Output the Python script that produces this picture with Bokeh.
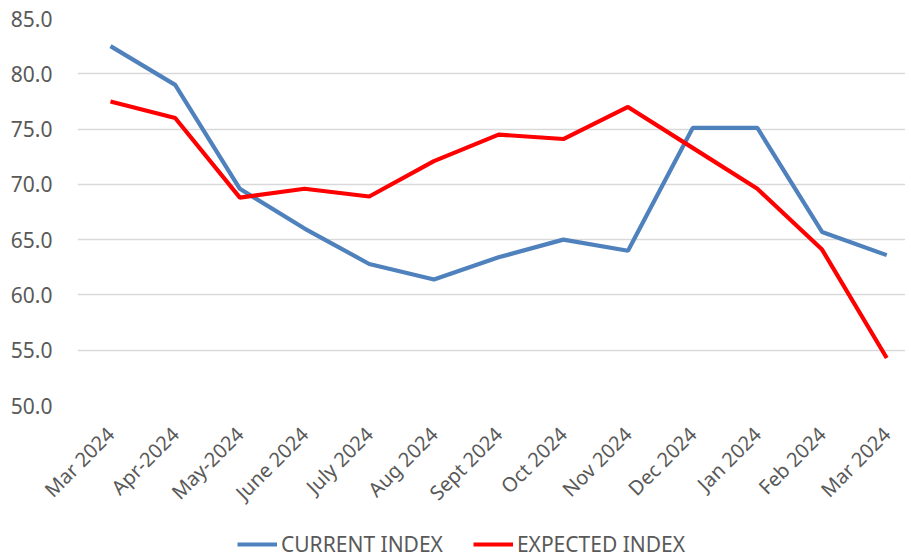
import math
from bokeh.plotting import figure
from bokeh.layouts import column
from bokeh.models import FixedTicker, Legend, LegendItem, Range1d, ColumnDataSource
from bokeh.embed import file_html
from bokeh.resources import INLINE

months = ["Mar 2024", "Apr-2024", "May-2024", "June 2024", "July 2024", "Aug 2024",
          "Sept 2024", "Oct 2024", "Nov 2024", "Dec 2024", "Jan 2024", "Feb 2024", "Mar 2024"]
current_index = [82.5, 79.0, 69.6, 66.0, 62.8, 61.4, 63.4, 65.0, 64.0, 75.1, 75.1, 65.7, 63.6]
expected_index = [77.5, 76.0, 68.8, 69.6, 68.9, 72.1, 74.5, 74.1, 77.0, 73.3, 69.6, 64.1, 54.3]
series_names = ["CURRENT INDEX", "EXPECTED INDEX"]
y_ticks = [50, 55, 60, 65, 70, 75, 80, 85]

xs = list(range(len(months)))
src = ColumnDataSource(dict(x=xs, cur=current_index, exp=expected_index))

FONT = "Noto Sans"
GREY = "#595959"
BLUE = "#4F81BD"
RED = "#FF0000"

p = figure(width=905, height=520, output_backend="svg", toolbar_location=None,
           x_range=Range1d(-0.51, 12.29), y_range=Range1d(50, 85))
p.min_border_left = 77
p.min_border_top = 18
p.min_border_right = 0
p.min_border_bottom = 115
p.outline_line_color = None

p.xgrid.grid_line_color = None
p.ygrid.grid_line_color = "#D9D9D9"
p.ygrid.grid_line_width = 1.3
p.ygrid.ticker = FixedTicker(ticks=y_ticks)

p.yaxis.ticker = FixedTicker(ticks=y_ticks)
p.yaxis.major_label_overrides = {t: f"{t:.1f}" for t in y_ticks}
p.yaxis.axis_line_color = None
p.yaxis.major_tick_line_color = None
p.yaxis.minor_tick_line_color = None
p.yaxis.major_label_text_font = FONT
p.yaxis.major_label_text_font_size = "21px"
p.yaxis.major_label_text_color = GREY
p.yaxis.major_label_standoff = 19

p.xaxis.ticker = FixedTicker(ticks=xs)
p.xaxis.major_label_overrides = {i: m for i, m in enumerate(months)}
p.xaxis.major_label_orientation = math.pi / 4
p.xaxis.axis_line_color = None
p.xaxis.major_tick_line_color = None
p.xaxis.minor_tick_line_color = None
p.xaxis.major_label_text_font = FONT
p.xaxis.major_label_text_font_size = "20px"
p.xaxis.major_label_text_color = GREY
p.xaxis.major_label_standoff = 19

p.line("x", "cur", source=src, line_color=BLUE, line_width=4.2)
p.line("x", "exp", source=src, line_color=RED, line_width=4.2)

# legend strip below the chart
p2 = figure(width=905, height=38, output_backend="svg", toolbar_location=None,
            x_range=Range1d(0, 1), y_range=Range1d(0, 1),
            x_axis_type=None, y_axis_type=None)
p2.min_border = 0
p2.min_border_left = 0
p2.min_border_right = 0
p2.min_border_top = 0
p2.min_border_bottom = 0
p2.outline_line_color = None
p2.grid.visible = False
l1 = p2.line(x=[5, 6], y=[5, 6], line_color=BLUE, line_width=4.2)
l2 = p2.line(x=[5, 6], y=[5, 6], line_color=RED, line_width=4.2)
legend = Legend(items=[LegendItem(label=series_names[0], renderers=[l1]),
                       LegendItem(label=series_names[1], renderers=[l2])],
                orientation="horizontal", location=(160, 0),
                label_text_font=FONT, label_text_font_size="21px",
                label_text_color=GREY, glyph_width=40, label_standoff=4,
                spacing=30, border_line_color=None, background_fill_alpha=0,
                padding=0, margin=0)
p2.add_layout(legend, "center")

open("out.html", "w").write(file_html(column(p, p2, spacing=0), INLINE))
